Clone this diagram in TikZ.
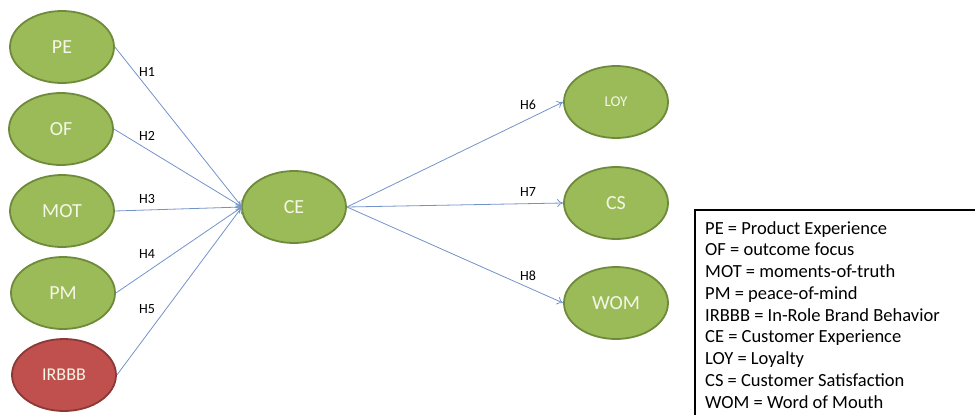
\documentclass[tikz,border=0pt]{standalone}
\usepackage{fontspec}
\setmainfont{Carlito}
\usetikzlibrary{shapes.geometric,arrows.meta}
\definecolor{gfill}{HTML}{9BBB59}
\definecolor{gdraw}{HTML}{6E8A3A}
\definecolor{rfill}{HTML}{C0504D}
\definecolor{rdraw}{HTML}{8C3836}
\definecolor{arr}{HTML}{7393C8}
\definecolor{ltxt}{HTML}{F4F6E6}
\tikzset{
  gnode/.style={ellipse, draw=gdraw, fill=gfill, line width=1.8pt, minimum width=104pt, minimum height=72pt, inner sep=0pt, text=ltxt, font=\fontsize{20}{24}\selectfont},
  rnode/.style={gnode, draw=rdraw, fill=rfill, font=\fontsize{18}{22}\selectfont},
  hyp/.style={draw=arr, line width=0.8pt, -{To[length=6pt,width=8pt]}},
  hlab/.style={font=\fontsize{14}{16}\selectfont, anchor=west, inner sep=0pt},
  legtxt/.style={font=\fontsize{18.5}{21.75}\selectfont, anchor=north west, inner sep=0pt, align=left}
}
\begin{document}
\begin{tikzpicture}[x=1pt,y=-1pt]
\useasboundingbox (0,0) rectangle (975,415);
\clip (0,0) rectangle (975,415);
\node[gnode] (PE) at (62,47) {PE};
\node[gnode] (OF) at (61,129) {OF};
\node[gnode] (MOT) at (62,211) {MOT};
\node[gnode] (PM) at (63,293) {PM};
\node[rnode] (IR) at (64,375) {IRBBB};
\node[gnode] (CE) at (294,207) {CE};
\node[gnode, font=\fontsize{15}{18}\selectfont] (LOY) at (616,102) {LOY};
\node[gnode] (CS) at (616,203) {CS};
\node[gnode] (WOM) at (616,303) {WOM};
\coordinate (cin) at (242,207);
\draw[hyp] (PE.east) -- (cin);
\draw[hyp] (OF.east) -- (cin);
\draw[hyp] (MOT.east) -- (cin);
\draw[hyp] (PM.east) -- (cin);
\draw[hyp] (IR.east) -- (cin);
\draw[hyp] (CE.east) -- (LOY.west);
\draw[hyp] (CE.east) -- (CS.west);
\draw[hyp] (CE.east) -- (WOM.west);
\node[hlab] (h1) at (139,72) {H1};
\node[hlab] (h2) at (139,136) {H2};
\node[hlab] (h3) at (139,199) {H3};
\node[hlab] (h4) at (139,254) {H4};
\node[hlab] (h5) at (139,309) {H5};
\node[hlab] (h6) at (520,105) {H6};
\node[hlab] (h7) at (520,192) {H7};
\node[hlab] (h8) at (520,276) {H8};
\draw[line width=2pt] (695,210) rectangle (990,430);
\node[legtxt] (leg) at (705,221) {PE = Product Experience\\OF = outcome focus\\MOT = moments-of-truth\\PM = peace-of-mind\\IRBBB = In-Role Brand Behavior\\CE = Customer Experience\\LOY = Loyalty\\CS = Customer Satisfaction\\WOM = Word of Mouth};
\end{tikzpicture}
\end{document}
